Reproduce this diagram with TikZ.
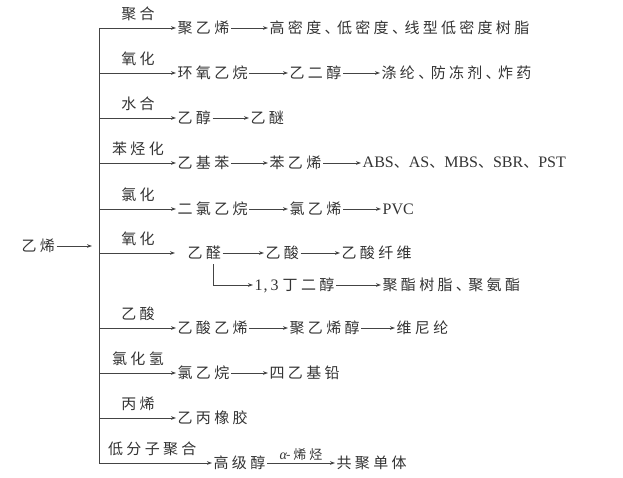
\documentclass[tikz,border=0pt]{standalone}
\usepackage{fontspec}
\setmainfont{Liberation Serif}
\newfontfamily\cjk[LetterSpace=22]{Noto Sans CJK SC}
\newfontfamily\latf{Liberation Serif}
\usetikzlibrary{arrows.meta}
\definecolor{txt}{HTML}{333333}
\definecolor{ln}{HTML}{444444}
\newcommand\lt[1]{{\latf\fontsize{16}{16}\selectfont #1}}
\newcommand\dn{、\kern-2.5pt}
\tikzset{
  t/.style={anchor=west, inner xsep=1.5pt, inner ysep=0pt, text=txt,
    font=\cjk\fontsize{15}{15}\selectfont},
  lab/.style={inner sep=0pt, text=txt, font=\cjk\fontsize{15}{15}\selectfont},
  arr/.style={draw=ln, line width=0.8pt, -{Stealth[length=5pt,width=3.6pt]}},
  bus/.style={draw=ln, line width=0.8pt},
}
\begin{document}
\begin{tikzpicture}[x=1pt,y=-1pt]
\useasboundingbox (0,0) rectangle (623,478);
% source
\node[t] (src) at (20,246) {乙烯};
\coordinate (busin) at (92,246);
\draw[arr] (src) -- (busin);
% bus
\coordinate (b1) at (99,28);
\coordinate (b2) at (99,73);
\coordinate (b3) at (99,118);
\coordinate (b4) at (99,163);
\coordinate (b5) at (99,209);
\coordinate (b6) at (99,253);
\coordinate (b7) at (99,328);
\coordinate (b8) at (99,373);
\coordinate (b9) at (99,418);
\coordinate (b10) at (99,463);
\draw[bus] (b1) -- (b10);
% labels
\node[lab] (l1) at (138,14) {聚合};
\node[lab] (l2) at (138,59) {氧化};
\node[lab] (l3) at (138,104) {水合};
\node[lab] (l4) at (138,149) {苯烃化};
\node[lab] (l5) at (138,195) {氯化};
\node[lab] (l6) at (138,239) {氧化};
\node[lab] (l7) at (138,314) {乙酸};
\node[lab] (l8) at (138,359) {氯化氢};
\node[lab] (l9) at (138,404) {丙烯};
\node[lab,anchor=west] (l10) at (108,449) {低分子聚合};
% row 1
\node[t] (r1a) at (176,28) {聚乙烯};
\node[t] (r1b) at (268,28) {高密度\dn 低密度\dn 线型低密度树脂};
\draw[arr] (b1) -- (r1a);
\draw[arr] (r1a) -- (r1b);
% row 2
\node[t] (r2a) at (176,73) {环氧乙烷};
\node[t] (r2b) at (288,73) {乙二醇};
\node[t] (r2c) at (380,73) {涤纶\dn 防冻剂\dn 炸药};
\draw[arr] (b2) -- (r2a);
\draw[arr] (r2a) -- (r2b);
\draw[arr] (r2b) -- (r2c);
% row 3
\node[t] (r3a) at (176,118) {乙醇};
\node[t] (r3b) at (249,118) {乙醚};
\draw[arr] (b3) -- (r3a);
\draw[arr] (r3a) -- (r3b);
% row 4
\node[t] (r4a) at (176,163) {乙基苯};
\node[t] (r4b) at (268,163) {苯乙烯};
\node[t] (r4c) at (361,163) {\lt{ABS}、\lt{AS}、\lt{MBS}、\lt{SBR}、\lt{PST}};
\draw[arr] (b4) -- (r4a);
\draw[arr] (r4a) -- (r4b);
\draw[arr] (r4b) -- (r4c);
% row 5
\node[t] (r5a) at (176,209) {二氯乙烷};
\node[t] (r5b) at (288,209) {氯乙烯};
\node[t] (r5c) at (381,209) {\lt{PVC}};
\draw[arr] (b5) -- (r5a);
\draw[arr] (r5a) -- (r5b);
\draw[arr] (r5b) -- (r5c);
% row 6
\node[t] (r6a) at (186,253) {乙醛};
\node[t] (r6b) at (264,253) {乙酸};
\node[t] (r6c) at (340,253) {乙酸纤维};
\node[t] (r6s) at (253,285) {\lt{1\kern1pt,\kern3pt3}\kern4pt 丁二醇};
\node[t] (r6t) at (381,285) {聚酯树脂\dn 聚氨酯};
\coordinate (sub) at (213,264);
\draw[arr] (b6) -- (175,253);
\draw[arr] (r6a) -- (r6b);
\draw[arr] (r6b) -- (r6c);
\draw[arr] (sub) |- (r6s.west);
\draw[arr] (r6s) -- (r6t);
% row 7
\node[t] (r7a) at (176,328) {乙酸乙烯};
\node[t] (r7b) at (288,328) {聚乙烯醇};
\node[t] (r7c) at (395,328) {维尼纶};
\draw[arr] (b7) -- (r7a);
\draw[arr] (r7a) -- (r7b);
\draw[arr] (r7b) -- (r7c);
% row 8
\node[t] (r8a) at (176,373) {氯乙烷};
\node[t] (r8b) at (268,373) {四乙基铅};
\draw[arr] (b8) -- (r8a);
\draw[arr] (r8a) -- (r8b);
% row 9
\node[t] (r9a) at (176,418) {乙丙橡胶};
\draw[arr] (b9) -- (r9a);
% row 10
\node[t] (r10a) at (212,463) {高级醇};
\node[t] (r10b) at (335,463) {共聚单体};
\draw[arr] (r10a) -- node[above=2pt, inner sep=0pt, text=txt, font=\cjk\fontsize{13}{13}\selectfont] (al) {{\latf\itshape\fontsize{14}{14}\selectfont α}\kern-1pt-烯烃} (r10b);
\draw[arr] (b10) -- (r10a);
\end{tikzpicture}
\end{document}
